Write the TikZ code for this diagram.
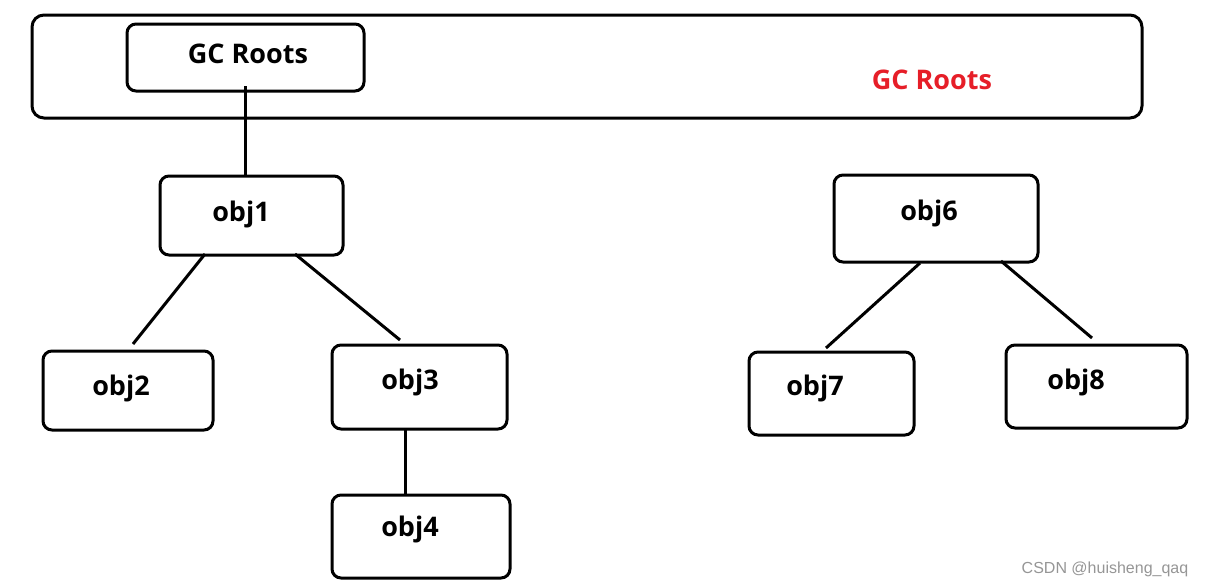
\documentclass[tikz,border=0pt]{standalone}
\usepackage{fontspec}
\setmainfont{Open Sans}
\newfontfamily\wmfont{Liberation Sans}
\definecolor{gcred}{RGB}{230,30,40}
\definecolor{wmgray}{RGB}{150,150,150}
\begin{document}
\begin{tikzpicture}[x=1pt,y=-1pt,
  box/.style={draw=black,line width=3pt,rounded corners=9pt,inner sep=0pt},
  lbl/.style={font=\fontsize{27}{31}\selectfont\bfseries,inner sep=0pt},
  conn/.style={line width=3pt}]
\useasboundingbox (0,0) rectangle (1207,587);
\fill[white] (0,0) rectangle (1207,587);
% boxes
\node[box,minimum width=1110pt,minimum height=103pt,rounded corners=12pt] (outer) at (587,66.5) {};
\node[box,minimum width=237pt,minimum height=67pt] (gcbox) at (245.5,57.5) {};
\node[box,minimum width=183pt,minimum height=79pt] (b1) at (251.5,215.5) {};
\node[box,minimum width=170pt,minimum height=79pt] (b2) at (128,390.5) {};
\node[box,minimum width=175pt,minimum height=84pt] (b3) at (419.5,387) {};
\node[box,minimum width=178pt,minimum height=83pt] (b4) at (421,536.5) {};
\node[box,minimum width=204pt,minimum height=87pt] (b6) at (936,218.5) {};
\node[box,minimum width=165pt,minimum height=83pt] (b7) at (831.5,393.5) {};
\node[box,minimum width=181pt,minimum height=83pt] (b8) at (1096.5,386.5) {};
% texts
\node[lbl] (tgc) at (248,54) {GC Roots};
\node[lbl,text=gcred] (tgcred) at (932,80) {GC Roots};
\node[lbl] (t1) at (241,214) {obj1};
\node[lbl] (t2) at (121,388) {obj2};
\node[lbl] (t3) at (410,382) {obj3};
\node[lbl] (t4) at (410,529) {obj4};
\node[lbl] (t6) at (929,213) {obj6};
\node[lbl] (t7) at (815,388) {obj7};
\node[lbl] (t8) at (1076,382) {obj8};
\node[font=\wmfont\fontsize{16}{19}\selectfont,text=wmgray,inner sep=0pt] (wm) at (1105,569) {CSDN @huisheng\_qaq};
% connector end points
\coordinate (c0) at (245,86);
\coordinate (c1) at (245,177);
\coordinate (c12a) at (205,254);
\coordinate (c12b) at (133,344);
\coordinate (c13a) at (295,254);
\coordinate (c13b) at (400,340);
\coordinate (c34a) at (405,429);
\coordinate (c34b) at (405,495);
\coordinate (c67a) at (920,263);
\coordinate (c67b) at (826,348);
\coordinate (c68a) at (1001,261);
\coordinate (c68b) at (1092,338);
% connectors
\draw[conn] (c0) -- (c1);
\draw[conn] (c12a) -- (c12b);
\draw[conn] (c13a) -- (c13b);
\draw[conn] (c34a) -- (c34b);
\draw[conn] (c67a) -- (c67b);
\draw[conn] (c68a) -- (c68b);
\end{tikzpicture}
\end{document}
